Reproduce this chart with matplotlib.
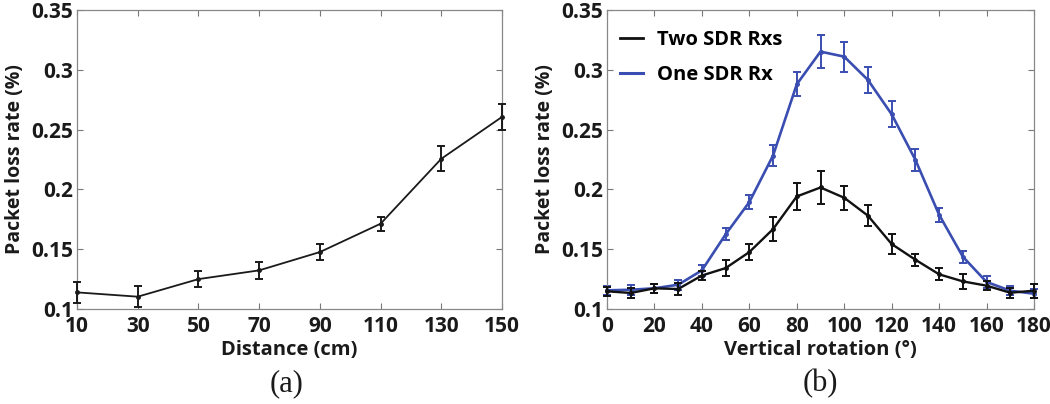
import matplotlib
matplotlib.use("Agg")
import matplotlib.pyplot as plt
from matplotlib.ticker import FixedLocator
from matplotlib.lines import Line2D

# ---- data ----
dist_cm = [10, 30, 50, 70, 90, 110, 130, 150]
dist_loss = [0.1139, 0.1103, 0.1250, 0.1323, 0.1476, 0.1713, 0.2256, 0.2606]
dist_err = [0.0090, 0.0090, 0.0065, 0.0070, 0.0064, 0.0060, 0.0105, 0.0110]

rot_deg = [0, 10, 20, 30, 40, 50, 60, 70, 80, 90, 100, 110, 120, 130, 140, 150, 160, 170, 180]
two_loss = [0.1148, 0.1134, 0.1173, 0.1167, 0.1280, 0.1342, 0.1476, 0.1668, 0.1941, 0.2016,
            0.1930, 0.1780, 0.1543, 0.1412, 0.1290, 0.1231, 0.1195, 0.1136, 0.1153]
two_err = [0.004, 0.004, 0.004, 0.005, 0.004, 0.007, 0.007, 0.010, 0.011, 0.014,
           0.010, 0.009, 0.008, 0.005, 0.005, 0.006, 0.004, 0.004, 0.006]
one_loss = [0.1156, 0.1161, 0.1173, 0.1203, 0.1323, 0.1624, 0.1894, 0.2283, 0.2879, 0.3152,
            0.3110, 0.2915, 0.2628, 0.2247, 0.1788, 0.1437, 0.1226, 0.1153, 0.1128]
one_err = [0.004, 0.004, 0.004, 0.004, 0.0045, 0.005, 0.006, 0.009, 0.010, 0.0135,
           0.0125, 0.011, 0.011, 0.009, 0.006, 0.005, 0.005, 0.004, 0.004]

dist_ticks = [10, 30, 50, 70, 90, 110, 130, 150]
rot_ticks = [0, 20, 40, 60, 80, 100, 120, 140, 160, 180]
y_ticks = [0.1, 0.15, 0.2, 0.25, 0.3, 0.35]
y_ticklabels = ["0.1", "0.15", "0.2", "0.25", "0.3", "0.35"]
series_labels = ["Two SDR Rxs", "One SDR Rx"]

BLUE = "#3a4db0"
BLACK = "#111111"
TXT = "#1a1a1a"
SANS = ["Open Sans", "DejaVu Sans"]

fig = plt.figure(figsize=(10.5, 4.04), dpi=100)
W, H = 1050, 404
ax1 = fig.add_axes([77 / W, (H - 309) / H, 425 / W, 299 / H])
ax2 = fig.add_axes([607 / W, (H - 309) / H, 427 / W, 299 / H])


def style(ax, xticks, xlim, xlabel):
    ax.set_xlim(*xlim)
    ax.set_ylim(0.1, 0.35)
    ax.xaxis.set_major_locator(FixedLocator(xticks))
    ax.set_xticklabels([str(t) for t in xticks])
    ax.set_yticks(y_ticks)
    ax.set_yticklabels(y_ticklabels)
    ax.tick_params(direction="in", length=4, width=0.8, color="#777777",
                   top=True, right=True, labelsize=15, labelcolor=TXT)
    ax.tick_params(axis="y", pad=3)
    ax.tick_params(axis="x", pad=5)
    for lab in ax.get_xticklabels() + ax.get_yticklabels():
        lab.set_fontweight("bold")
        lab.set_family(SANS)
    for s in ax.spines.values():
        s.set_color("#888888")
        s.set_linewidth(0.9)
    ax.set_xlabel(xlabel, fontsize=14.5, fontweight="bold", color=TXT,
                  family=SANS, labelpad=2)
    ax.set_ylabel("Packet loss rate (%)", fontsize=14, fontweight="bold",
                  color=TXT, family=SANS, labelpad=4)


eb_kw = dict(marker="o", ms=2.5, capsize=3, elinewidth=1.4, capthick=1.4,
             clip_on=False)

ax1.errorbar(dist_cm, dist_loss, yerr=dist_err, color="#1a1a1a", lw=1.3,
             zorder=3, **eb_kw)
style(ax1, dist_ticks, (10, 150), "Distance (cm)")

ax2.errorbar(rot_deg, two_loss, yerr=two_err, color=BLACK, lw=1.7,
             zorder=3, **eb_kw)
ax2.errorbar(rot_deg, one_loss, yerr=one_err, color=BLUE, lw=1.9,
             zorder=2, **eb_kw)
style(ax2, rot_ticks, (0, 180), "Vertical rotation (°)")

handles = [Line2D([], [], color=BLACK, lw=2.0), Line2D([], [], color=BLUE, lw=2.2)]
ax2.legend(handles, series_labels, loc="upper left", frameon=False,
           handlelength=1.15, handletextpad=0.7, labelspacing=0.75,
           borderaxespad=0.0, prop={"family": SANS, "weight": "bold", "size": 14.5},
           bbox_to_anchor=(0.012, 0.96))

fig.text(287 / W, 1 - 384 / H, "(a)", ha="center", va="center",
         family="Liberation Serif", fontsize=22, color=TXT)
fig.text(820 / W, 1 - 384 / H, "(b)", ha="center", va="center",
         family="Liberation Serif", fontsize=22, color=TXT)

fig.savefig("out.png", dpi=100)
